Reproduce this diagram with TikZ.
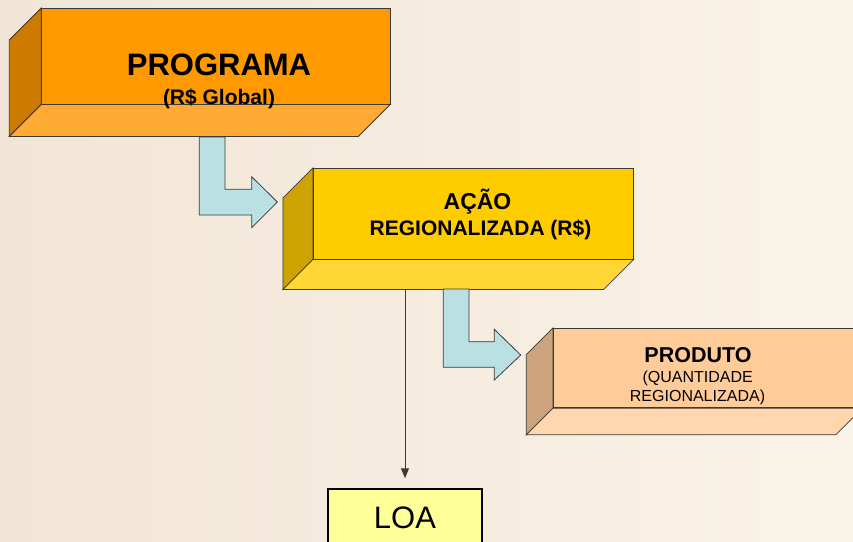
\documentclass[tikz,border=0pt]{standalone}
\usepackage{fontspec}
\setmainfont{Liberation Sans}
\usetikzlibrary{positioning, arrows.meta, calc}

\definecolor{edgegray}{HTML}{3A3A3A}
\definecolor{bgleft}{HTML}{F1E5D6}
\definecolor{bgright}{HTML}{FAF3E8}
\definecolor{progfront}{HTML}{FF9900}
\definecolor{progside}{HTML}{CC7A00}
\definecolor{progbottom}{HTML}{FFAA33}
\definecolor{acaofront}{HTML}{FFCC00}
\definecolor{acaoside}{HTML}{CCA300}
\definecolor{acaobottom}{HTML}{FFD633}
\definecolor{prodfront}{HTML}{FFCC99}
\definecolor{prodside}{HTML}{CCA37A}
\definecolor{prodbottom}{HTML}{FFD6AD}
\definecolor{arrowblue}{HTML}{BBE0E3}
\definecolor{loafill}{HTML}{FFFF99}

\tikzset{
  face/.style={draw=edgegray, line width=0.8pt},
  front/.style={face, rectangle, inner sep=0pt},
  bentarrow/.style={draw=edgegray, fill=arrowblue, line width=0.8pt},
  label/.style={anchor=base, inner sep=0pt, text=black},
}

% side and bottom faces of a box, pushed down-left from its front face
\newcommand{\extrude}[4]{%
  \filldraw[face, fill=#3] (#1.north west) -- (#1.south west) -- ++(-#2,#2)
    -- ($(#1.north west)+(-#2,#2)$) -- cycle;
  \filldraw[face, fill=#4] (#1.south west) -- (#1.south east) -- ++(-#2,#2)
    -- ($(#1.south west)+(-#2,#2)$) -- cycle;
}

\begin{document}
\begin{tikzpicture}[x=1pt, y=-1pt]
    \useasboundingbox (0,0) rectangle (853,541);
    \clip (0,0) rectangle (853,541);
    \shade[left color=bgleft, right color=bgright] (0,0) rectangle (853,541);

    % Programa
    \node[front, fill=progfront, minimum width=348.3pt, minimum height=95.7pt] (programa) at (215.8,56.2) {};
    \extrude{programa}{32}{progside}{progbottom}
    \node[label, font=\bfseries\fontsize{31}{36}\selectfont] (programa-title) at (219,75) {PROGRAMA};
    \node[label, font=\bfseries\fontsize{21}{24}\selectfont] (programa-sub) at (219,104.3) {(R\$ Global)};

    % Acao
    \node[front, fill=acaofront, minimum width=320pt, minimum height=90.7pt] (acao) at (473.3,213.7) {};
    \extrude{acao}{30}{acaoside}{acaobottom}
    \node[label, font=\bfseries\fontsize{23}{26}\selectfont] (acao-title) at (477.5,209) {AÇÃO};
    \node[label, font=\bfseries\fontsize{21}{24}\selectfont] (acao-sub) at (480.5,235) {REGIONALIZADA (R\$)};

    % Produto
    \node[front, fill=prodfront, minimum width=308.7pt, minimum height=79.4pt] (produto) at (707.7,368) {};
    \extrude{produto}{26.7}{prodside}{prodbottom}
    \node[label, font=\bfseries\fontsize{21.5}{24}\selectfont] (produto-title) at (698,362.3) {PRODUTO};
    \node[label, font=\fontsize{16}{18}\selectfont] (produto-sub1) at (697.7,382) {(QUANTIDADE};
    \node[label, font=\fontsize{16}{18}\selectfont] (produto-sub2) at (697.5,401.7) {REGIONALIZADA)};

    % Bent arrows
    \draw[bentarrow] (199.3,137) -- (225,137) -- (225,189.3) -- (251.7,189.3) -- (251.7,176.7)
        -- (277.3,202) -- (251.7,227.7) -- (251.7,215) -- (199.3,215) -- cycle;
    \draw[bentarrow] (443.3,289) -- (469,289) -- (469,341.7) -- (494.3,341.7) -- (494.3,329.3)
        -- (520.7,355) -- (494.3,380) -- (494.3,367.3) -- (443.3,367.3) -- cycle;

    % LOA
    \node[draw=black, line width=2.2pt, fill=loafill, minimum width=153.4pt, minimum height=55.7pt,
        inner sep=0pt] (loa) at (405,517.2) {};
    \node[label, font=\fontsize{31}{34}\selectfont] (loa-text) at (405,528.3) {LOA};

    \coordinate (acaobase) at (405,289);
    \draw[edgegray, line width=1pt, -{Triangle[length=10pt, width=8pt]}] (acaobase) -- ([yshift=10pt]loa.north);
\end{tikzpicture}
\end{document}
